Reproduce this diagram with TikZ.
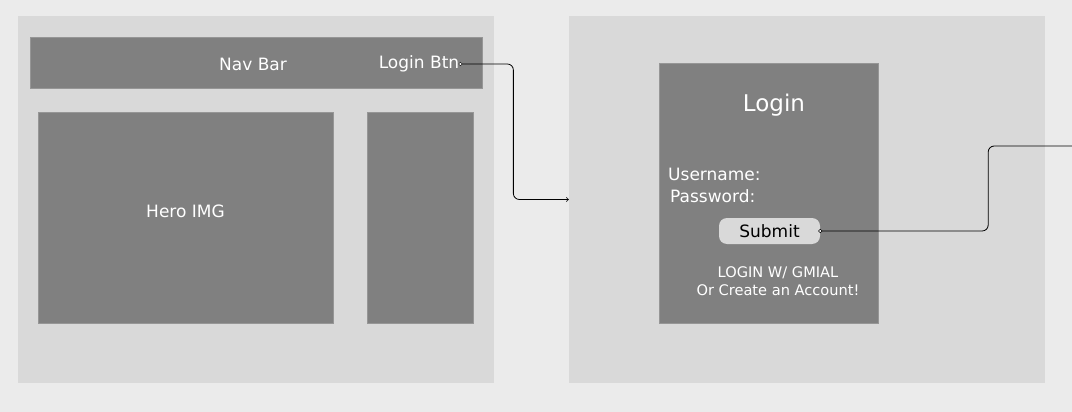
\documentclass[tikz,border=0pt]{standalone}
\usepackage{fontspec}
\setmainfont{DejaVu Sans}
\definecolor{canvas}{HTML}{EBEBEB}
\definecolor{panelgray}{HTML}{D9D9D9}
\definecolor{boxgray}{HTML}{808080}
\definecolor{boxedge}{HTML}{969696}
\tikzset{
  page/.style  = {rectangle, fill=panelgray, inner sep=0},
  block/.style = {rectangle, fill=boxgray, draw=boxedge, line width=0.6pt, inner sep=0},
  lbl/.style   = {text=white, font=\fontsize{17}{20}\selectfont, inner sep=1pt},
  small/.style = {text=white, font=\fontsize{14.6}{18}\selectfont, align=center, inner sep=0},
  btn/.style   = {rectangle, rounded corners=8pt, fill=panelgray, minimum width=101pt, minimum height=26pt, font=\fontsize{17}{20}\selectfont},
  link/.style  = {line width=0.8pt, rounded corners=6pt},
  dot/.style   = {circle, draw, fill=white, line width=0.5pt, minimum size=3.5pt, inner sep=0}
}

\begin{document}
\begin{tikzpicture}[x=1pt, y=-1pt]
  \fill[canvas] (0,0) rectangle (1072,412);
  \useasboundingbox (0,0) rectangle (1072,412);

  % home page
  \node[page, minimum width=476pt, minimum height=367pt] (home) at (256,199.5) {};
  \node[block, minimum width=452pt, minimum height=51pt] (nav) at (256,62.5) {};
  \node[lbl] (navtxt) at (253,64) {Nav Bar};
  \node[lbl] (btntxt) at (419,64) {Login Btn};
  \node[block, minimum width=295pt, minimum height=211pt] (hero) at (185.5,217.5) {};
  \node[lbl] at (hero.center) [yshift=6pt] {Hero IMG};
  \node[block, minimum width=106pt, minimum height=211pt] (side) at (420,217.5) {};

  % login page
  \node[page, minimum width=476pt, minimum height=367pt] (loginpage) at (807,199.5) {};
  \node[block, minimum width=219pt, minimum height=260pt] (loginbox) at (768.5,193) {};
  \node[lbl, font=\fontsize{23}{26}\selectfont] (title) at (774,105) {Login};
  \node[lbl, anchor=west] (user) at (667,174) {Username:};
  \node[lbl, anchor=west] (pass) at (669,196) {Password:};
  \node[btn] (submit) at (769.5,231) {Submit};
  \node[small] (gmail) at (778,281) {LOGIN W/ GMIAL\\Or Create an Account!};
  \coordinate (exit) at (1072,146);

  % flows
  \draw[link, ->] (btntxt.east) -- ++(53,0) |- (loginpage.west);
  \draw[link] (submit.east) -- ++(168,0) |- (exit);
  \node[dot] at (btntxt.east) {};
  \node[dot] at (submit.east) {};
\end{tikzpicture}
\end{document}
